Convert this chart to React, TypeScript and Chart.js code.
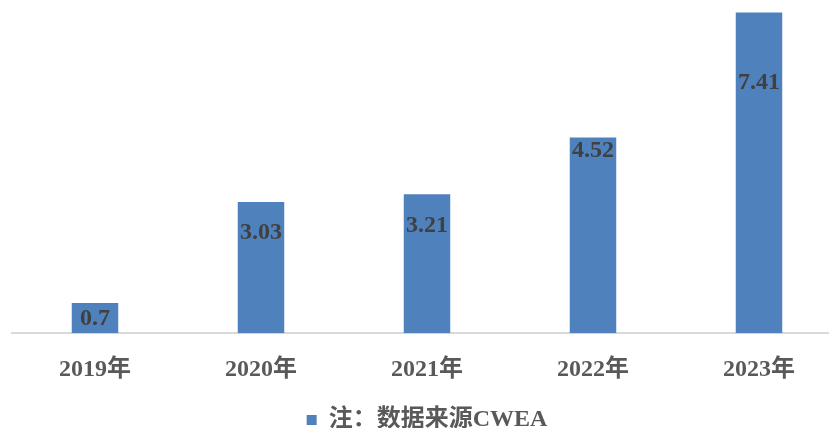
import React, { useEffect, useRef } from "react";
import { Chart, registerables } from "chart.js";

Chart.register(...registerables);

const categories: string[] = ["2019年", "2020年", "2021年", "2022年", "2023年"];
const values: number[] = [0.7, 3.03, 3.21, 4.52, 7.41];
const seriesName = "注：数据来源CWEA";

const FONT = "'Liberation Serif', 'Times New Roman', 'Noto Sans CJK SC', serif";

// where each value label sits (in value units along the y axis)
const labelAnchors: number[] = [0.33, 2.31, 2.48, 4.22, 5.78];

const valueLabelPlugin = {
  id: "valueLabels",
  afterDatasetsDraw(chart: any) {
    const ctx = chart.ctx;
    const meta = chart.getDatasetMeta(0);
    const yScale = chart.scales.y;
    ctx.save();
    ctx.font = `bold 24px ${FONT}`;
    ctx.fillStyle = "#404040";
    ctx.textAlign = "center";
    ctx.textBaseline = "middle";
    meta.data.forEach((bar: any, i: number) => {
      const v = chart.data.datasets[0].data[i];
      const y = yScale.getPixelForValue(labelAnchors[i]);
      ctx.fillText(String(v), bar.x, y);
    });
    ctx.restore();
  },
};

export default function App() {
  const ref = useRef<HTMLCanvasElement | null>(null);
  useEffect(() => {
    if (!ref.current) return;
    const chart = new Chart(ref.current, {
      type: "bar",
      data: {
        labels: categories,
        datasets: [
          {
            label: seriesName,
            data: values,
            backgroundColor: "#4F81BD",
            borderWidth: 0,
            categoryPercentage: 1,
            barPercentage: 0.28,
          },
        ],
      },
      options: {
        responsive: false,
        animation: false,
        layout: { padding: { left: 12, right: 24, top: 0, bottom: 0 } },
        plugins: {
          tooltip: { enabled: false },
          legend: {
            display: true,
            position: "bottom",
            labels: {
              boxWidth: 10,
              boxHeight: 10,
              padding: 10,
              color: "#595959",
              font: { family: FONT, size: 24, weight: "bold" },
            },
          },
        },
        scales: {
          x: {
            grid: { display: false },
            border: { display: true, color: "#D9D9D9", width: 2 },
            ticks: {
              color: "#595959",
              padding: 14,
              font: { family: FONT, size: 24, weight: "bold" },
            },
          },
          y: {
            display: false,
            min: 0,
            max: 7.7,
          },
        },
      },
      plugins: [valueLabelPlugin],
    });
    return () => chart.destroy();
  }, []);
  return (
    <div
      style={{
        position: "fixed",
        left: 0,
        top: 0,
        width: 829,
        height: 428,
        overflow: "hidden",
        background: "#fff",
      }}
    >
      <canvas ref={ref} width={866} height={442} style={{ width: 866, height: 442, display: "block" }} />
    </div>
  );
}
